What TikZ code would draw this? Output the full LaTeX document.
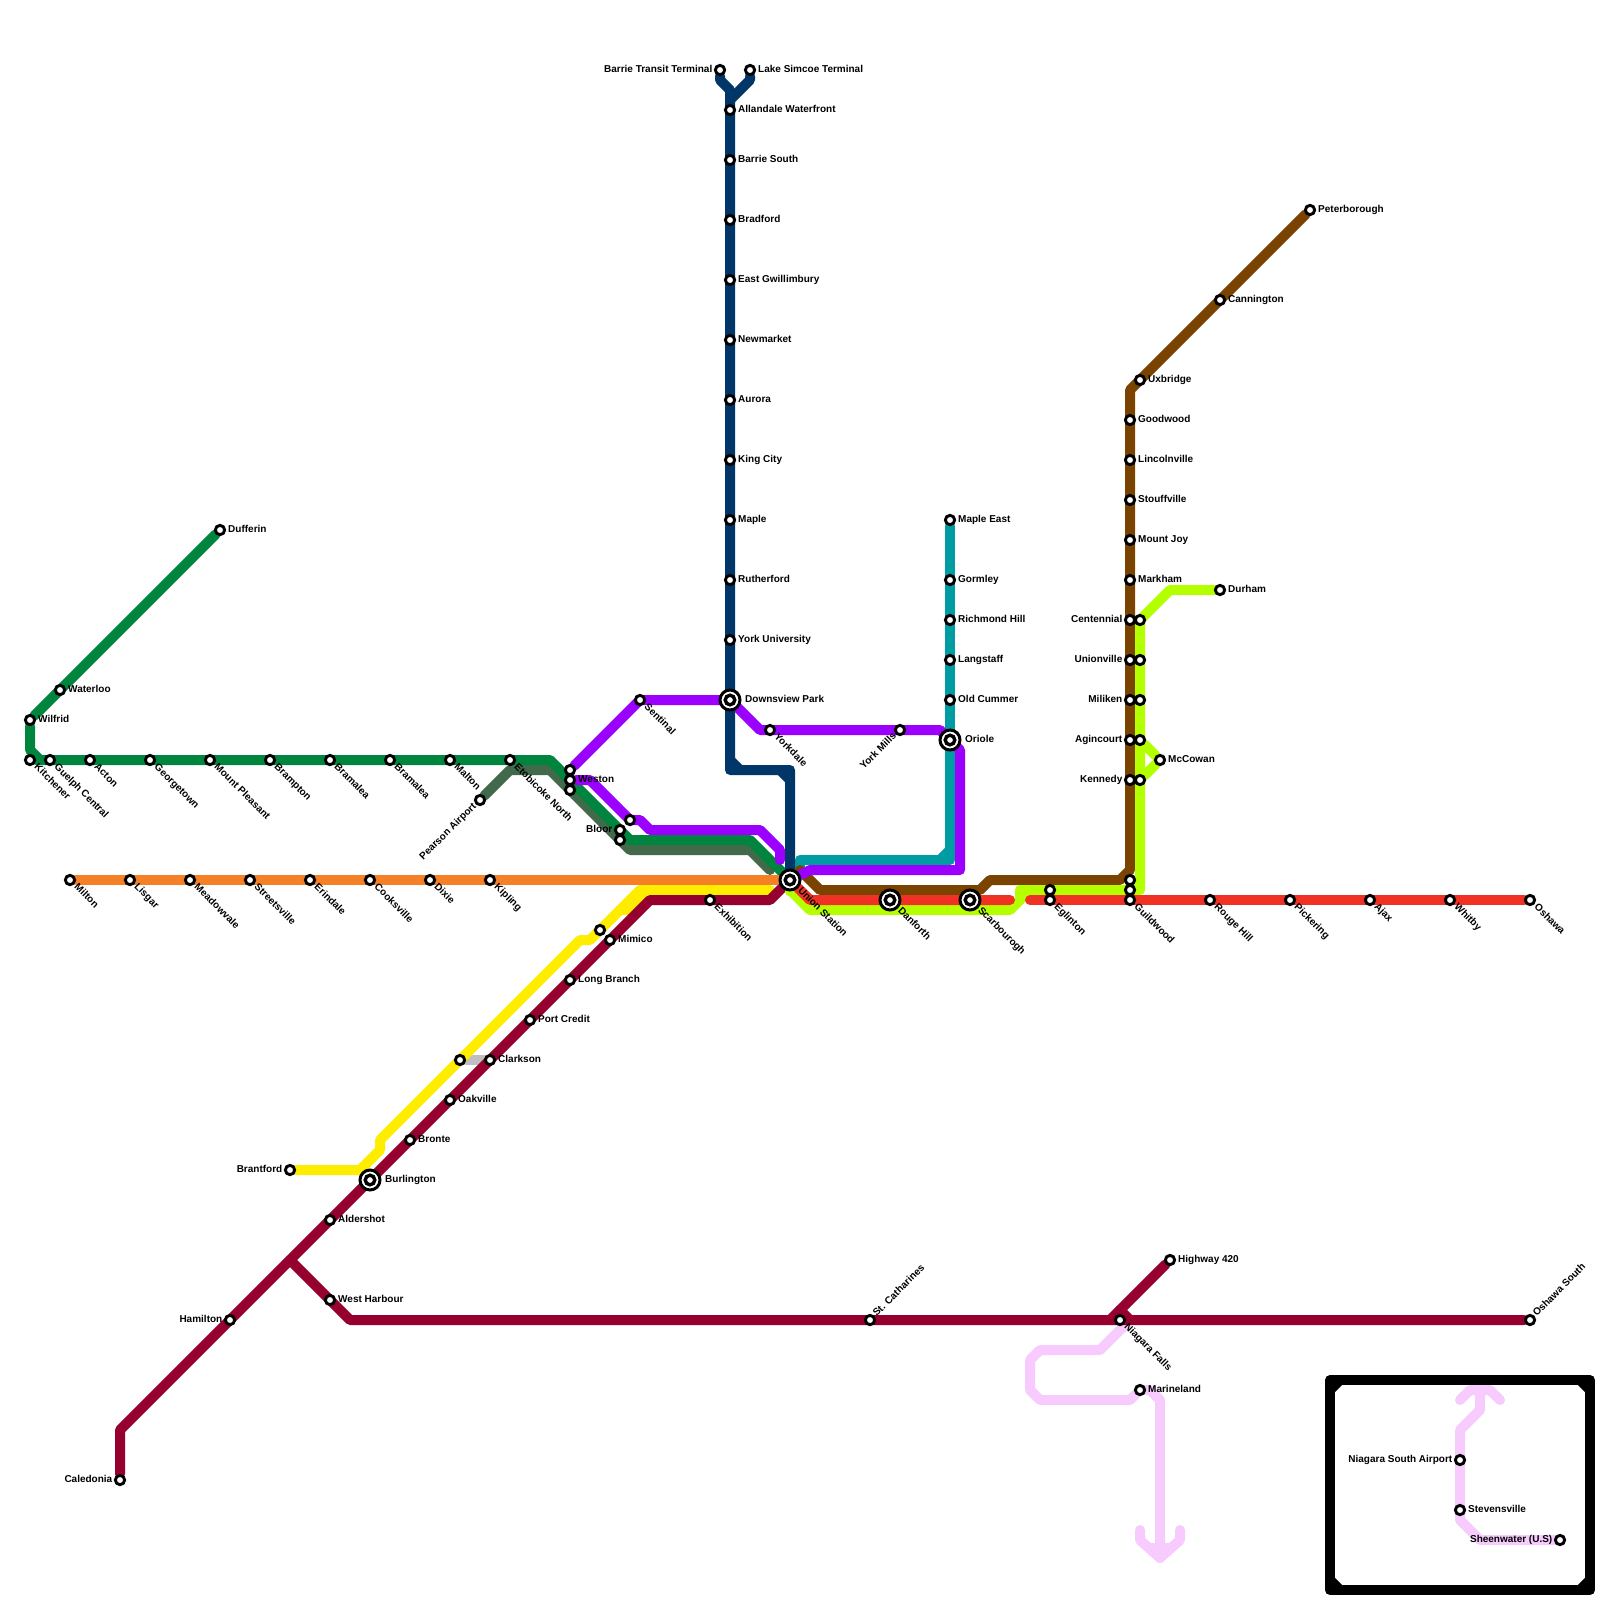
\documentclass[tikz,border=0pt]{standalone}
\usepackage{xcolor}
\usepackage{fontspec}
\setmainfont{Liberation Sans}
\usetikzlibrary{backgrounds}

\definecolor{kitchenergreen}{HTML}{00853E}
\definecolor{pearsongreen}{HTML}{42694A}
\definecolor{subwaypurple}{HTML}{9B00FF}
\definecolor{barrienavy}{HTML}{003768}
\definecolor{richmondteal}{HTML}{009CA3}
\definecolor{miltonorange}{HTML}{F68026}
\definecolor{brantfordyellow}{HTML}{FFED00}
\definecolor{lakeshoremaroon}{HTML}{96002E}
\definecolor{stouffvillelime}{HTML}{B4FF00}
\definecolor{uxbridgebrown}{HTML}{7A4400}
\definecolor{lakeshorered}{HTML}{F03225}
\definecolor{niagarapink}{HTML}{F8CBFF}

\tikzset{
  route/.style={line width=10pt, line cap=round, line join=round},
  stn/.style={circle, draw=black, fill=white, line width=2.9pt, minimum size=9.3pt, inner sep=0pt},
  hubring/.style={circle, draw=black, fill=white, line width=3pt, minimum size=20pt, inner sep=0pt},
  hubdot/.style={circle, draw=black, fill=white, line width=3.4pt, minimum size=9.6pt, inner sep=0pt},
  lbl/.style={font=\fontsize{10}{12}\selectfont\bfseries, inner sep=0pt, text=black, text height=7.2pt, text depth=2pt},
  lblright/.style={lbl, anchor=west, xshift=8pt},
  lblleft/.style={lbl, anchor=east, xshift=-7.5pt},
  lbldown/.style={lbl, anchor=west, rotate=-45, xshift=8pt},
  lblup/.style={lbl, anchor=west, rotate=45, xshift=7pt},
  lbldownleft/.style={lbl, anchor=east, rotate=45, xshift=-7pt},
  lblhub/.style={lbl, anchor=west, xshift=15pt},
}

\begin{document}
\begin{tikzpicture}[x=1pt, y=-1pt]
  \useasboundingbox (0,0) rectangle (1600,1600);

  % Stations, label to the right
  \foreach \x/\y/\name/\txt in {
    60/690/waterloo/Waterloo, 30/720/wilfrid/Wilfrid, 220/530/dufferin/Dufferin,
    750/70/simcoe/Lake Simcoe Terminal, 730/110/allandale/Allandale Waterfront,
    730/160/barriesouth/Barrie South, 730/220/bradford/Bradford,
    730/280/gwillimbury/East Gwillimbury, 730/340/newmarket/Newmarket,
    730/400/aurora/Aurora, 730/460/kingcity/King City, 730/520/maple/Maple,
    730/580/rutherford/Rutherford, 730/640/yorku/York University,
    950/520/mapleeast/Maple East, 950/580/gormley/Gormley,
    950/620/richmond/Richmond Hill, 950/660/langstaff/Langstaff,
    950/700/cummer/Old Cummer, 570/780/weston/Weston, 610/940/mimico/Mimico,
    570/980/longbranch/Long Branch, 530/1020/portcredit/Port Credit,
    490/1060/clarkson/Clarkson, 450/1100/oakville/Oakville, 410/1140/bronte/Bronte,
    330/1220/aldershot/Aldershot, 330/1300/westharbour/West Harbour,
    1310/210/peterborough/Peterborough, 1220/300/cannington/Cannington,
    1140/380/uxbridge/Uxbridge, 1130/420/goodwood/Goodwood,
    1130/460/lincolnville/Lincolnville, 1130/500/stouffville/Stouffville,
    1130/540/mountjoy/Mount Joy, 1130/580/markham/Markham, 1220/590/durham/Durham,
    1160/760/mccowan/McCowan, 1170/1260/highway/Highway 420,
    1140/1390/marineland/Marineland, 1460/1510/stevensville/Stevensville} {
    \node[stn] (\name) at (\x,\y) {};
    \node[lblright] (\name txt) at (\x,\y) {\txt};
  }
  % Stations, label to the left
  \foreach \x/\y/\name/\txt in {
    720/70/barrie/Barrie Transit Terminal, 620/830/bloor/Bloor,
    1130/620/centennial/Centennial, 1130/660/unionville/Unionville,
    1130/700/miliken/Miliken, 1130/740/agincourt/Agincourt, 1130/780/kennedy/Kennedy,
    290/1170/brantford/Brantford, 230/1320/hamilton/Hamilton,
    120/1480/caledonia/Caledonia, 1460/1460/niagarasouth/Niagara South Airport,
    1560/1540/sheenwater/Sheenwater (U.S)} {
    \node[stn] (\name) at (\x,\y) {};
    \node[lblleft] (\name txt) at (\x,\y) {\txt};
  }
  % Stations, label going down
  \foreach \x/\y/\name/\txt in {
    30/760/kitchener/Kitchener, 50/760/guelph/Guelph Central, 90/760/acton/Acton,
    150/760/georgetown/Georgetown, 210/760/mountpleasant/Mount Pleasant,
    270/760/brampton/Brampton, 330/760/bramaleaw/Bramalea, 390/760/bramaleae/Bramalea,
    450/760/malton/Malton, 510/760/etobicoke/Etobicoke North,
    70/880/milton/Milton, 130/880/lisgar/Lisgar, 190/880/meadowvale/Meadowvale,
    250/880/streetsville/Streetsville, 310/880/erindale/Erindale,
    370/880/cooksville/Cooksville, 430/880/dixie/Dixie, 490/880/kipling/Kipling,
    640/700/sentinal/Sentinal, 770/730/yorkdale/Yorkdale, 710/900/exhibition/Exhibition,
    1050/900/eglinton/Eglinton, 1130/900/guildwood/Guildwood, 1210/900/rougehill/Rouge Hill,
    1290/900/pickering/Pickering, 1370/900/ajax/Ajax, 1450/900/whitby/Whitby,
    1530/900/oshawa/Oshawa, 1120/1320/niagarafalls/Niagara Falls} {
    \node[stn] (\name) at (\x,\y) {};
    \node[lbldown] (\name txt) at (\x,\y) {\txt};
  }
  % Other small stations
  \node[stn] (stcath) at (870,1320) {};
  \node[lblup] (stcathtxt) at (870,1320) {St. Catharines};
  \node[stn] (oshawasouth) at (1530,1320) {};
  \node[lblup] (oshawasouthtxt) at (1530,1320) {Oshawa South};
  \node[stn] (yorkmills) at (900,730) {};
  \node[lbldownleft] (yorkmillstxt) at (900,730) {York Mills};
  \node[stn] (pearson) at (480,800) {};
  \node[lbldownleft] (pearsontxt) at (480,800) {Pearson Airport};
  % No label
  \foreach \x/\y/\name in {570/770/westontop, 570/790/westonlow, 630/820/bloorpurple,
    620/840/bloorlow, 600/930/mimicoyellow, 460/1060/clarksonyellow,
    1140/620/centennialb, 1140/660/unionvilleb, 1140/700/milikenb, 1140/740/agincourtb,
    1140/780/kennedyb, 1130/880/guildtop, 1130/890/guildmid, 1050/890/eglintonb} {
    \node[stn] (\name) at (\x,\y) {};
  }
  % Interchanges
  \foreach \x/\y/\name/\txt in {730/700/downsview/Downsview Park, 950/740/oriole/Oriole,
    370/1180/burlington/Burlington} {
    \node[hubring] (\name) at (\x,\y) {};
    \node[hubdot] (\name dot) at (\x,\y) {};
    \node[lblhub] (\name txt) at (\x,\y) {\txt};
  }
  \foreach \x/\y/\name/\txt in {790/880/union/Union Station, 890/900/danforth/Danforth,
    970/900/scarborough/Scarbourogh} {
    \node[hubring] (\name) at (\x,\y) {};
    \node[hubdot] (\name dot) at (\x,\y) {};
    \node[lbldown, xshift=5pt] (\name txt) at (\x,\y) {\txt};
  }

  % Free line ends
  \coordinate (pearsonend) at (770,870);
  \coordinate (purplestub) at (780,860);
  \coordinate (yellowend) at (770,890);
  \coordinate (redwest) at (1010,900);
  \coordinate (redeast) at (1030,900);
  \coordinate (pinkfalls) at (1130,1320);
  \coordinate (pinkdown) at (1160,1558);
  \coordinate (pinkup) at (1480,1390);

  \begin{scope}[on background layer]
    % Transfer
    \draw[route, black!25] (clarksonyellow) -- (clarkson);
    % Niagara
    \draw[route, niagarapink] (pinkfalls) -- (1100,1350) -- (1040,1350) -- (1030,1360) -- (1030,1390)
      -- (1040,1400) -- (1130,1400) -- (marineland) -- (1150,1390) -- (1160,1400) -- (pinkdown);
    \draw[route, niagarapink] (1140,1530) -- (1140,1540) -- (pinkdown) -- (1180,1540) -- (1180,1530);
    \draw[route, niagarapink] (1150,1548) -- (1170,1548);
    \draw[route, niagarapink] (sheenwater) -- (1480,1540) -- (1460,1520) -- (stevensville.center)
      -- (niagarasouth.center) -- (1460,1430) -- (1480,1410) -- (pinkup);
    \draw[route, niagarapink] (1460,1400) -- (1470,1390) -- (pinkup) -- (1490,1390) -- (1500,1400);
    % Inset frame
    \draw[route, black] (1330,1380) rectangle (1590,1590);
    \foreach \a/\b/\c/\d in {1330/1390/1340/1380, 1580/1380/1590/1390,
      1330/1580/1340/1590, 1580/1590/1590/1580} {
      \draw[route, black] (\a,\b) -- (\c,\d);
    }
    % Pearson and Kitchener
    \draw[route, pearsongreen] (pearson) -- (510,770) -- (550,770) -- (630,850) -- (750,850) -- (pearsonend);
    \draw[route, kitchenergreen] (dufferin) -- (wilfrid) -- (30,750) -- (40,760);
    \draw[route, kitchenergreen] (kitchener) -- (550,760) -- (630,840) -- (750,840) -- (union);
    % Richmond Hill
    \draw[route, richmondteal] (mapleeast) -- (950,860) -- (800,860) -- (800,875);
    \draw[route, richmondteal] (950,850) -- (940,860);
    % Uxbridge
    \draw[route, uxbridgebrown] (peterborough) -- (1130,390) -- (1130,870) -- (1120,880)
      -- (990,880) -- (980,890) -- (820,890) -- (800,870);
    % Subway
    \draw[route, subwaypurple] (westontop) -- (sentinal.center) -- (downsview.center) -- (760,730) -- (940,730)
      -- (960,750) -- (960,870) -- (810,870) -- (union);
    \draw[route, subwaypurple] (weston) -- (590,780) -- (bloorpurple.center) -- (640,820)
      -- (650,830) -- (760,830) -- (780,850) -- (purplestub);
    % Barrie
    \draw[route, barrienavy] (barrie) -- (720,80) -- (730,90) -- (730,770) -- (790,770) -- (union);
    \draw[route, barrienavy] (simcoe) -- (750,80) -- (730,100);
    \draw[route, barrienavy] (730,760) -- (740,770);
    \draw[route, barrienavy] (780,770) -- (790,780);
    % Milton
    \draw[route, miltonorange] (milton) -- (union);
    % Brantford
    \draw[route, brantfordyellow] (brantford) -- (360,1170) -- (380,1150) -- (380,1140) -- (580,940)
      -- (590,940) -- (640,890) -- (yellowend);
    \draw[route, brantfordyellow] (620,910) -- (630,910) -- (650,890);
    % Lakeshore West
    \draw[route, lakeshoremaroon] (caledonia) -- (120,1430) -- (650,900) -- (770,900) -- (union);
    \draw[route, lakeshoremaroon] (290,1260) -- (350,1320) -- (oshawasouth);
    \draw[route, lakeshoremaroon] (highway) -- (1110,1320);
    \draw[route, lakeshoremaroon] (1120,1310) -- (1130,1320);
    % Stouffville
    \draw[route, stouffvillelime] (durham) -- (1170,590) -- (1140,620) -- (1140,890) -- (1030,890)
      -- (1010,910) -- (810,910) -- (790,890) -- (union);
    \draw[route, stouffvillelime] (1030,890) -- (1020,890) -- (1020,900);
    \draw[route, stouffvillelime] (agincourtb) -- (mccowan) -- (kennedyb);
    % Lakeshore East
    \draw[route, lakeshorered] (union) -- (810,900) -- (redwest);
    \draw[route, lakeshorered] (redeast) -- (oshawa);
  \end{scope}
\end{tikzpicture}
\end{document}
